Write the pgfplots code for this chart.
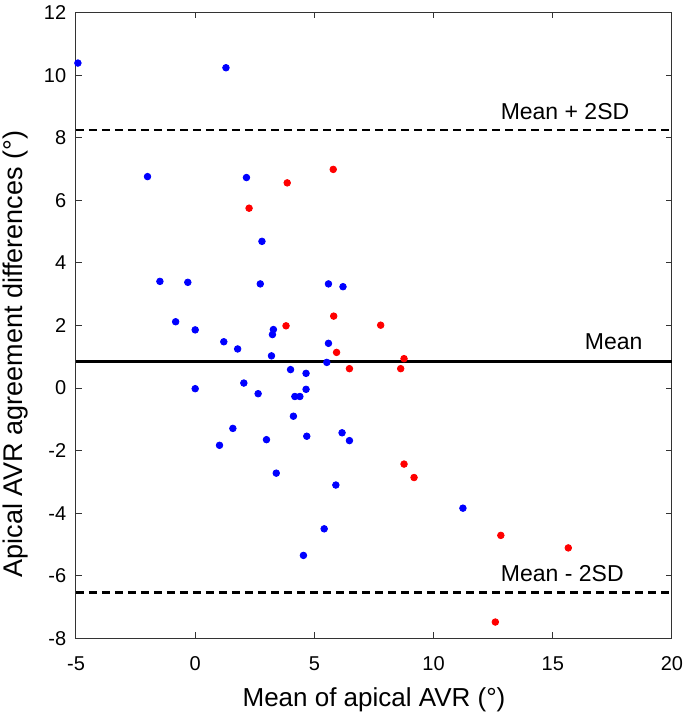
\documentclass[border=0pt]{standalone}
\usepackage{fontspec}
\setmainfont{Liberation Sans}
\usepackage{pgfplots}
\pgfplotsset{compat=1.18}
\definecolor{axgray}{gray}{0.2}
\begin{document}
\begin{tikzpicture}
\path[use as bounding box] (-38bp,-38.35bp) rectangle (304.5bp,319.15bp);
\begin{axis}[
  at={(0,0)}, anchor=south west,
  scale only axis,
  width=298bp, height=312.8bp,
  xmin=-5, xmax=20, ymin=-8, ymax=12,
  xtick={-5,0,5,10,15,20},
  ytick={-8,-6,-4,-2,0,2,4,6,8,10,12},
  tick align=inside,
  major tick length=2.9bp,
  axis line style={axgray, line width=0.5bp},
  tick style={axgray, line width=0.5bp},
  /pgf/number format/assume math mode=true,
  tick label style={font=\fontsize{10bp}{12bp}\selectfont},
  yticklabel style={anchor=east, inner sep=0pt, xshift=-4.7bp},
  xticklabel style={anchor=north, inner sep=0pt, yshift=-9bp},
  xlabel={Mean of apical AVR (°)},
  ylabel={Apical AVR agreement differences (°)},
  every axis x label/.style={at={(axis description cs:0.5,-0.1093)}, anchor=base, font=\fontsize{13bp}{15bp}\selectfont},
  every axis y label/.style={at={(axis description cs:-0.0894,0.4545)}, anchor=base, rotate=90, font=\fontsize{13.5bp}{15bp}\selectfont},
  clip=false,
]
\addplot[only marks, mark=*, mark size=1.65bp, blue, mark options={draw=none, fill=blue}] coordinates {
(-4.92,10.39) (1.29,10.24) (-2.00,6.76) (2.15,6.73) (2.80,4.69)
(-1.48,3.41) (-0.31,3.38) (2.73,3.33) (5.59,3.33) (6.20,3.24)
(-0.82,2.12) (0.00,1.86) (1.20,1.48) (1.78,1.25) (3.28,1.87)
(3.24,1.71) (3.20,1.03) (5.59,1.43) (5.52,0.82) (4.00,0.59)
(4.65,0.47) (2.04,0.16) (0.00,-0.02) (2.64,-0.18) (4.65,-0.04)
(4.18,-0.27) (4.39,-0.27) (4.12,-0.90) (1.58,-1.29) (1.02,-1.83)
(2.99,-1.65) (4.68,-1.54) (6.16,-1.43) (6.47,-1.68) (3.40,-2.72)
(5.90,-3.10) (5.41,-4.50) (4.54,-5.35) (11.23,-3.84)
};
\addplot[only marks, mark=*, mark size=1.65bp, red, mark options={draw=none, fill=red}] coordinates {
(2.26,5.75) (3.86,6.56) (5.79,6.99) (5.81,2.30) (3.81,1.99)
(5.93,1.14) (6.47,0.62) (7.78,2.01) (8.76,0.94) (8.62,0.62)
(8.76,-2.43) (9.18,-2.86) (12.82,-4.71) (15.65,-5.11) (12.59,-7.48)
};
\addplot[black, line width=1.3bp] coordinates {(-5,0.857) (20,0.857)};
\addplot[black, line width=1.3bp, dash pattern=on 4bp off 2.5bp] coordinates {(-5,8.25) (20,8.25)};
\addplot[black, line width=1.3bp, dash pattern=on 4bp off 2.5bp] coordinates {(-5,-6.53) (20,-6.53)};
\node[anchor=base west, inner sep=0pt, font=\fontsize{11.5bp}{13bp}\selectfont] at (axis cs:12.8,8.59) {Mean + 2SD};
\node[anchor=base west, inner sep=0pt, font=\fontsize{11.5bp}{13bp}\selectfont] at (axis cs:16.33,1.22) {Mean};
\node[anchor=base west, inner sep=0pt, font=\fontsize{11.5bp}{13bp}\selectfont] at (axis cs:12.81,-6.19) {Mean - 2SD};
\end{axis}
\end{tikzpicture}
\end{document}
